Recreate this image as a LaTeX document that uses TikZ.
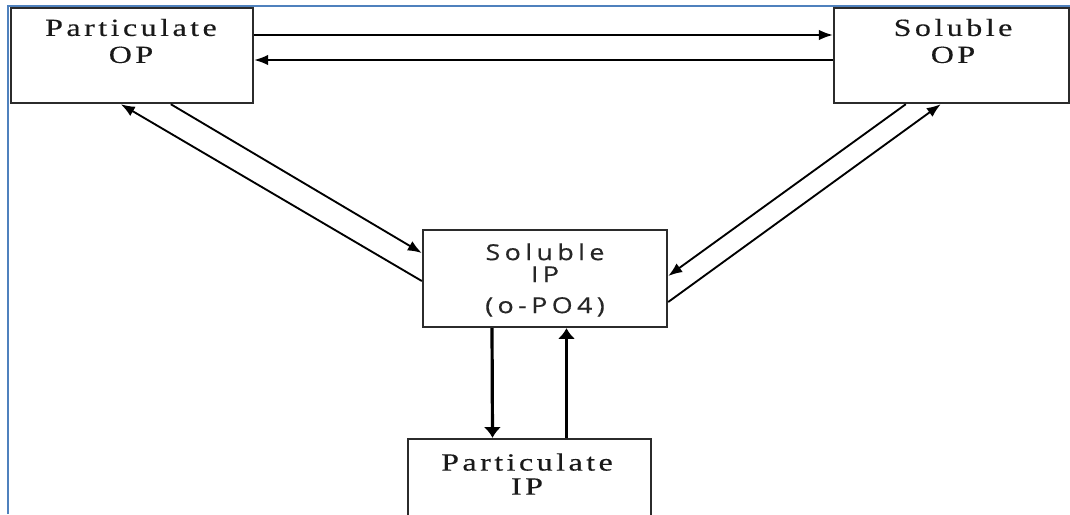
\documentclass[tikz,border=0pt]{standalone}
\usepackage{fontspec}
\usetikzlibrary{arrows.meta,calc}
\newfontfamily\boxserif[FakeStretch=1.3,LetterSpace=14,FakeBold=0.3]{Liberation Serif}
\newfontfamily\boxsans[FakeStretch=1.22,LetterSpace=20,FakeBold=0.3]{Open Sans}
\definecolor{frameblue}{HTML}{4F81BD}
\definecolor{boxline}{HTML}{2B2B2B}
\begin{document}
\begin{tikzpicture}[x=0.75pt,y=-0.75pt,
  box/.style={draw=boxline,line width=1.8pt,fill=white,inner sep=0pt},
  seriflabel/.style={align=center,inner sep=0pt,text=black!90,
    font=\boxserif\fontsize{18.5}{20.25}\selectfont},
  sanslabel/.style={align=center,inner sep=0pt,text=black!85,
    font=\boxsans\fontsize{16.5}{16.5}\selectfont},
  flow/.style={draw=black,line width=1.4pt,-{Latex[length=10.5pt,width=8pt]}},
  vflow/.style={draw=black,line width=2.4pt,-{Latex[length=8pt,width=13pt]}}]
\useasboundingbox (0,0) rectangle (1070,514);
\clip (0,0) rectangle (1070,514);
\fill[white] (0,0) rectangle (1070,514);

% outer frame (left and top edges)
\draw[frameblue,line width=1.5pt] (7.8,514) -- (7.8,6) -- (1070,6);

% compartments
\node[box,minimum width=181.5pt,minimum height=71.25pt] (pop) at (132,55.5) {};
\node[box,minimum width=176.25pt,minimum height=71.25pt] (sop) at (951.5,55.5) {};
\node[box,minimum width=183pt,minimum height=72.75pt] (sip) at (545,278.5) {};
\node[box,minimum width=182.25pt,minimum height=75.75pt] (pip) at (529.5,489.5) {};

% compartment names
\node[seriflabel] (poptext) at (131,41) {Particulate\\OP};
\node[seriflabel] (soptext) at (953,41) {Soluble\\OP};
\node[sanslabel] (siptext) at (545,280) {Soluble\\IP\\[6.75pt](o-PO4)};
\node[seriflabel,font=\boxserif\fontsize{18.5}{18}\selectfont] (piptext) at (527,474) {Particulate\\IP};

% particulate OP <-> soluble OP
\draw[flow] ($(pop.east)+(0,-20.5)$) -- ($(sop.west)+(0,-20.5)$);
\draw[flow] ($(sop.west)+(0,4.5)$) -- ($(pop.east)+(0,4.5)$);

% particulate OP <-> soluble IP
\draw[flow] ($(pop.south west)+(161,0)$) -- ($(sip.west)+(0,-25.5)$);
\draw[flow] ($(sip.west)+(0,2.5)$) -- ($(pop.south west)+(111,0)$);

% soluble OP <-> soluble IP
\draw[flow] ($(sop.south west)+(73,0)$) -- ($(sip.east)+(0,-2.5)$);
\draw[flow] ($(sip.east)+(0,23.5)$) -- ($(sop.south west)+(108,0)$);

% soluble IP <-> particulate IP
\draw[vflow] ($(sip.south)+(-53,0)$) -- ($(pip.north)+(-37,0)$);
\draw[vflow] ($(pip.north)+(37,0)$) -- ($(sip.south)+(21.5,0)$);
\end{tikzpicture}
\end{document}
